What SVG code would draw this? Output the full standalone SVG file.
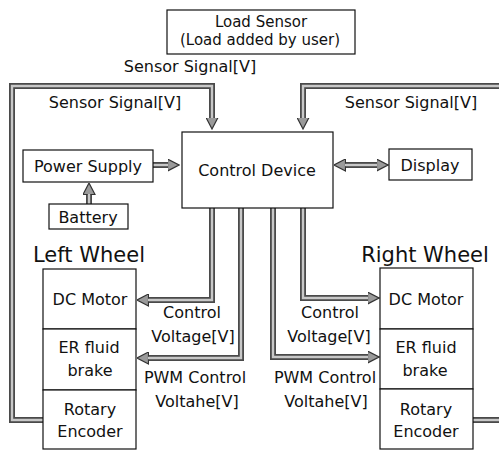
<svg xmlns="http://www.w3.org/2000/svg" width="499" height="450" viewBox="0 0 499 450">
<style>
.box{fill:#fff;stroke:#111;stroke-width:1.2}
.t{font-family:"DejaVu Sans",sans-serif;font-size:16px;fill:#111;text-anchor:middle}
.big{font-size:21px}
.sm{font-size:15px}
.o{fill:none;stroke:#4a4a4a;stroke-width:6}
.i{fill:none;stroke:#c8c8c8;stroke-width:2.4}
.a{marker-end:url(#ah)}
.a2{marker-start:url(#ah);marker-end:url(#ah)}
</style>
<defs>
<marker id="ah" markerUnits="userSpaceOnUse" viewBox="0 0 12 13" markerWidth="12" markerHeight="13" refX="0.5" refY="6.5" orient="auto-start-reverse">
<path d="M0,0.5 L11.5,6.5 L0,12.5 z" fill="#9a9a9a" stroke="#333" stroke-width="1.2"/>
</marker>
</defs>
<rect width="499" height="450" fill="#fff"/>
<g id="connectors">
<path class="o a" d="M43,420 H12 V86 H212 V118"/>
<path class="i" d="M43,420 H12 V86 H212 V118"/>
<path class="o a" d="M499,86 H303 V118"/>
<path class="i" d="M499,86 H303 V118"/>
<path class="o" d="M473,420 H499"/>
<path class="i" d="M473,420 H499"/>
<path class="o a" d="M153,165 H168"/>
<path class="i" d="M153,165 H168"/>
<path class="o a" d="M89,204 V194"/>
<path class="i" d="M89,204 V194"/>
<path class="o a2" d="M345,165 H377"/>
<path class="i" d="M345,165 H377"/>
<path class="o a" d="M212,208 V300 H148"/>
<path class="i" d="M212,208 V300 H148"/>
<path class="o a" d="M241,208 V358 H148"/>
<path class="i" d="M241,208 V358 H148"/>
<path class="o a" d="M273,208 V357 H368"/>
<path class="i" d="M273,208 V357 H368"/>
<path class="o a" d="M303,208 V298 H368"/>
<path class="i" d="M303,208 V298 H368"/>
</g>
<g id="load-sensor">
<rect class="box" x="167" y="10" width="188" height="44"/>
<text class="t sm" x="261" y="27">Load Sensor</text>
<text class="t sm" x="260" y="45">(Load added by user)</text>
</g>
<g id="labels">
<text class="t" x="190" y="72">Sensor Signal[V]</text>
<text class="t" x="115" y="108">Sensor Signal[V]</text>
<text class="t" x="411" y="108">Sensor Signal[V]</text>
<text class="t" x="192" y="318">Control</text>
<text class="t" x="193" y="342">Voltage[V]</text>
<text class="t" x="195" y="383">PWM Control</text>
<text class="t" x="197" y="407">Voltahe[V]</text>
<text class="t" x="330" y="318">Control</text>
<text class="t" x="329" y="342">Voltage[V]</text>
<text class="t" x="325" y="383">PWM Control</text>
<text class="t" x="326" y="407">Voltahe[V]</text>
</g>
<g id="control-device">
<rect class="box" x="182" y="132" width="151" height="76"/>
<text class="t" x="257" y="176">Control Device</text>
</g>
<g id="power-supply">
<rect class="box" x="23" y="150" width="130" height="32"/>
<text class="t" x="88" y="172">Power Supply</text>
</g>
<g id="battery">
<rect class="box" x="49" y="204" width="79" height="25"/>
<text class="t" x="88" y="223">Battery</text>
</g>
<g id="display">
<rect class="box" x="389" y="149" width="83" height="31"/>
<text class="t" x="430" y="171">Display</text>
</g>
<g id="left-wheel">
<text class="t big" x="89" y="262">Left Wheel</text>
<rect class="box" x="43" y="269" width="93" height="60"/>
<rect class="box" x="43" y="329" width="93" height="61"/>
<rect class="box" x="43" y="390" width="93" height="59"/>
<text class="t" x="90" y="305">DC Motor</text>
<text class="t" x="89" y="353">ER fluid</text>
<text class="t" x="90" y="376">brake</text>
<text class="t" x="90" y="415">Rotary</text>
<text class="t" x="90" y="437">Encoder</text>
</g>
<g id="right-wheel">
<text class="t big" x="425" y="262">Right Wheel</text>
<rect class="box" x="380" y="268" width="93" height="61"/>
<rect class="box" x="380" y="329" width="93" height="60"/>
<rect class="box" x="380" y="389" width="93" height="60"/>
<text class="t" x="426" y="305">DC Motor</text>
<text class="t" x="426" y="353">ER fluid</text>
<text class="t" x="425" y="376">brake</text>
<text class="t" x="426" y="415">Rotary</text>
<text class="t" x="426" y="437">Encoder</text>
</g>
</svg>
